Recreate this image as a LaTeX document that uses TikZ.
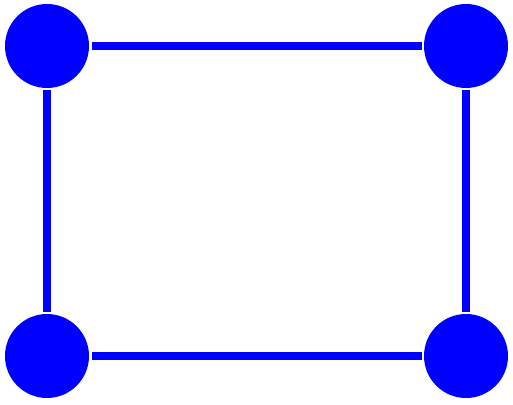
\documentclass[tikz,border=0pt]{standalone}
\usepackage{xcolor}
\usepackage{tikz}
\usetikzlibrary{positioning}

\begin{document}
\begin{tikzpicture}[x=1pt, y=1pt, on grid,
        vertex/.style={circle, fill=blue, minimum size=84pt, inner sep=0pt, outer sep=2.5pt},
        edge/.style={draw=blue, line width=8pt}]
        \useasboundingbox (0,0) rectangle (513,404);

        \node (tl) [vertex] at (47,358) {};
        \node (tr) [vertex, right=419pt of tl] {};
        \node (bl) [vertex, below=310pt of tl] {};
        \node (br) [vertex, right=419pt of bl] {};

        \draw[edge] (tl) -- (tr);
        \draw[edge] (tl) -- (bl);
        \draw[edge] (bl) -- (br);
        \draw[edge] (tr) -- (br);
    \end{tikzpicture}
\end{document}
